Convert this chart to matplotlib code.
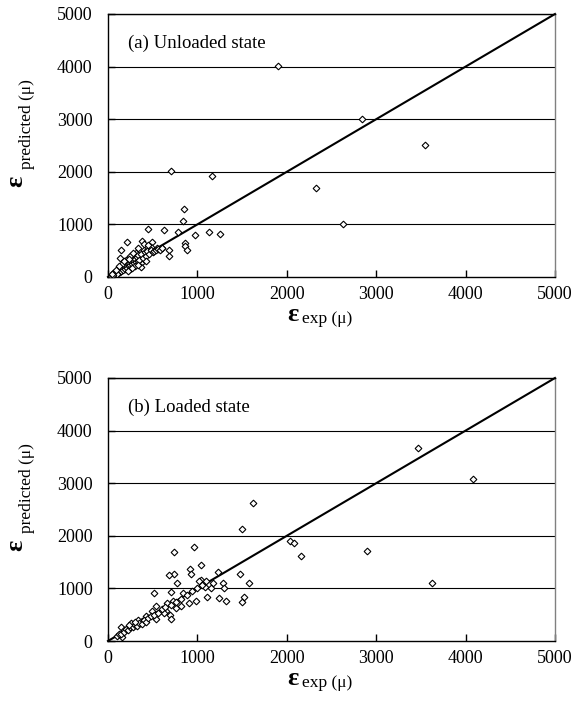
import matplotlib
matplotlib.use('Agg')
import matplotlib.pyplot as plt

plt.rcParams['font.family'] = ['Liberation Serif', 'DejaVu Serif']

# (a) unloaded state: experimental vs predicted strain (micro-strain)
unl_exp = [1900, 2840, 3550, 2330, 2625, 710, 1165, 855, 835, 445, 628, 783, 972, 1134, 1257,
           209, 142, 380, 487, 865, 856, 887, 677, 684, 131, 365, 365, 310, 403, 477, 552, 607,
           30, 50, 60, 70, 80, 90, 100, 110, 120, 130, 140, 150, 160, 170, 180, 190, 200, 210,
           220, 230, 240, 250, 260, 270, 280, 290, 300, 310, 320, 330, 340, 350, 370, 390, 410,
           420, 440, 460, 480, 500, 520, 540, 560, 580, 600, 250, 200, 160, 300, 250, 420, 180,
           280, 330, 400, 450, 230, 120, 100, 60, 40, 90, 270, 340, 220]
unl_pred = [4020, 3000, 2510, 1700, 1000, 2010, 1925, 1300, 1065, 910, 890, 855, 805, 855, 824,
            665, 510, 685, 660, 640, 580, 505, 505, 400, 355, 260, 196, 450, 513, 576, 545, 557,
            20, 40, 70, 50, 90, 60, 110, 80, 130, 100, 150, 120, 180, 140, 200, 160, 220, 180,
            250, 200, 270, 230, 300, 240, 320, 260, 340, 290, 380, 300, 410, 320, 440, 360, 470,
            400, 500, 430, 520, 470, 500, 510, 540, 520, 560, 400, 320, 250, 200, 150, 300, 300,
            450, 560, 620, 600, 350, 200, 50, 30, 60, 140, 180, 230, 120]

# (b) loaded state
lod_exp = [3470, 4080, 2900, 3620, 2160, 1620, 1500, 2036, 2084, 1227, 1473, 1577, 1040, 1283,
           1298, 1178, 1156, 1082, 1040, 1104, 1245, 1320, 1503, 1525, 958, 742, 921, 925, 742,
           679, 768, 1018, 515, 701, 835, 660, 723, 903, 981, 537, 489, 649, 764, 817, 690, 701,
           626, 429, 541, 384, 332, 254, 142, 179, 160, 100, 120, 150, 180, 200, 220, 250, 280,
           300, 320, 350, 380, 400, 420, 450, 480, 520, 560, 600, 640, 700, 760, 820, 880, 940,
           1000, 1050, 1100, 230, 300]
lod_pred = [3660, 3080, 1710, 1100, 1620, 2620, 2120, 1895, 1863, 1312, 1274, 1103, 1451, 1103,
            1014, 1097, 1014, 1033, 1160, 842, 817, 760, 741, 837, 1793, 1692, 1363, 1280, 1268,
            1249, 1097, 1135, 907, 926, 907, 728, 760, 716, 754, 665, 570, 570, 621, 659, 494, 418,
            532, 475, 424, 380, 399, 348, 260, 209, 70, 100, 140, 130, 170, 220, 200, 260, 270,
            300, 290, 340, 330, 390, 360, 430, 470, 500, 540, 600, 650, 680, 740, 800, 870, 950,
            1000, 1060, 1150, 300, 360]

line_range = [0, 5000]
ticks = [0, 1000, 2000, 3000, 4000, 5000]

W, H = 576, 717
fig = plt.figure(figsize=(W / 100, H / 100), dpi=100)
ax1 = fig.add_axes([108 / W, 1 - 277 / H, 447 / W, 263 / H])
ax2 = fig.add_axes([108 / W, 1 - 641 / H, 447 / W, 263 / H])


def ftext(px, py, s, **kw):
    # place text by pixel position (from top-left)
    fig.text(px / W, 1 - py / H, s, **kw)


panels = [(ax1, unl_exp, unl_pred, '(a) Unloaded state', 0),
          (ax2, lod_exp, lod_pred, '(b) Loaded state', 364)]

for ax, xs, ys, title, dy in panels:
    for t in ticks[1:]:
        ax.axhline(t, color='black', lw=0.8, zorder=1)
    ax.plot(xs, ys, 'D', ms=3.4, mfc='white', mec='black', mew=0.8, ls='none', zorder=3)
    ax.plot(line_range, line_range, color='black', lw=1.5, zorder=2, clip_on=False)
    ax.set_xlim(0, 5000)
    ax.set_ylim(0, 5000)
    ax.set_xticks(ticks)
    ax.set_yticks(ticks)
    ax.tick_params(direction='in', length=5, width=1, labelsize=13)
    ax.tick_params(axis='y', pad=11)
    ax.tick_params(axis='x', pad=6.5)
    ax.spines['left'].set_color('black')
    ax.spines['bottom'].set_color('black')
    ax.spines['top'].set_color('black')
    ax.spines['right'].set_color('#808080')
    for s in ax.spines.values():
        s.set_linewidth(1)
    ax.text(220, 4450, title, fontsize=13.5, va='center', ha='left')

    # axis labels: big epsilon with small subscript text
    ftext(293, 321 + dy, 'ε', fontsize=19, fontweight='bold', ha='center', va='baseline')
    ftext(302, 323 + dy, 'exp (μ)', fontsize=12.5, ha='left', va='baseline')
    ftext(16, 181 + dy, 'ε', fontsize=19, fontweight='bold', ha='center', va='center',
          rotation=90, rotation_mode='anchor')
    ftext(27, 169 + dy, 'predicted (μ)', fontsize=12.5, ha='left', va='center',
          rotation=90, rotation_mode='anchor')

plt.savefig('out.png', dpi=100)
plt.close()
